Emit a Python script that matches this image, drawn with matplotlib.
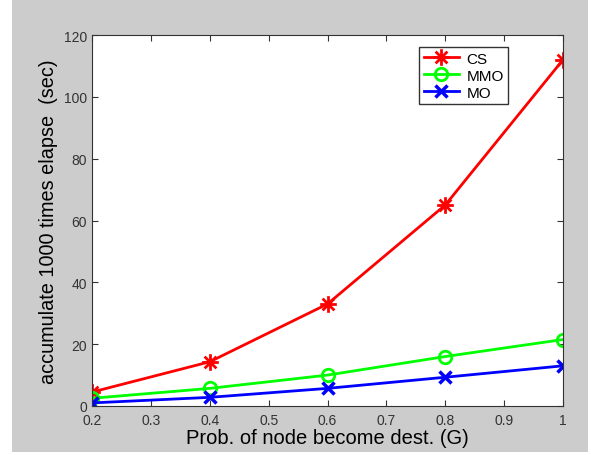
import matplotlib
matplotlib.use('Agg')
import numpy as np
import matplotlib.pyplot as plt
from matplotlib.patches import Rectangle
from matplotlib.path import Path

# Dados
g = [0.2, 0.4, 0.6, 0.8, 1.0]
cs = [4.5, 14.3, 33.0, 65.0, 112.0]
mmo = [2.5, 5.7, 10.0, 16.0, 21.5]
mo = [1.0, 2.8, 5.7, 9.3, 13.0]

plt.rcParams['font.family'] = ['Liberation Sans', 'DejaVu Sans']

# marcador asterisco estilo MATLAB (+ e x juntos)
verts, codes = [], []
for a in np.deg2rad([0, 45, 90, 135]):
    c, s = np.cos(a), np.sin(a)
    verts += [(-c, -s), (c, s)]
    codes += [Path.MOVETO, Path.LINETO]
asterisco = Path(verts, codes)

fig = plt.figure(figsize=(5.91, 4.56), dpi=100, facecolor='white')
# fundo cinza estilo MATLAB
fig.patches.append(Rectangle((12 / 591, 3 / 456), 576 / 591, 453 / 456,
                             transform=fig.transFigure, facecolor='#cccccc',
                             edgecolor='none', zorder=-1))

ax = fig.add_axes([92 / 591, (456 - 407) / 456, 471 / 591, 371 / 456])
ax.plot(g, cs, color='red', lw=2, marker=asterisco, ms=12, mew=2, label='CS')
ax.plot(g, mmo, color='#00ff00', lw=2, marker='o', ms=9, mfc='none', mew=2, label='MMO')
ax.plot(g, mo, color='blue', lw=2, marker='x', ms=8, mew=2.5, label='MO')

ax.set_xlim(0.2, 1)
ax.set_ylim(0, 120)
ax.set_xticks([0.2, 0.3, 0.4, 0.5, 0.6, 0.7, 0.8, 0.9, 1])
ax.set_xticklabels(['0.2', '0.3', '0.4', '0.5', '0.6', '0.7', '0.8', '0.9', '1'])
ax.set_yticks([0, 20, 40, 60, 80, 100, 120])
ax.tick_params(direction='in', top=True, right=True, length=4, labelsize=10,
               labelcolor='#333333', color='#333333')
ax.tick_params(axis='x', pad=5)
for s in ax.spines.values():
    s.set_color('#333333')

ax.set_xlabel('Prob. of node become dest. (G)', fontsize=14.5, labelpad=1)
ax.set_ylabel('accumulate 1000 times elapse  (sec)', fontsize=14.3, labelpad=4)

leg = ax.legend(loc='upper right', bbox_to_anchor=(0.9, 0.988), fancybox=False,
                edgecolor='#333333', framealpha=1, fontsize=11, handlelength=2.3,
                handletextpad=0.5, borderpad=0.3, labelspacing=0.2)
leg.get_frame().set_linewidth(1)

fig.savefig('out.png', dpi=100, facecolor=fig.get_facecolor())
